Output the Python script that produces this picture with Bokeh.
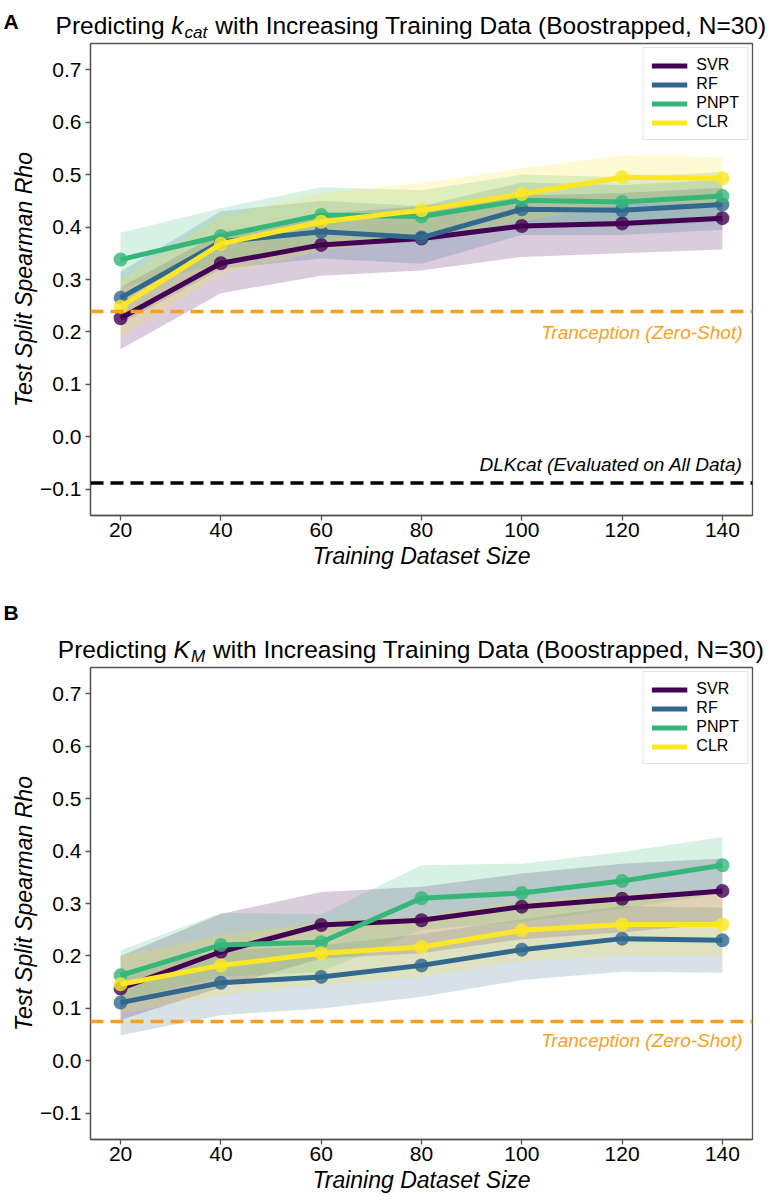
from bokeh.plotting import figure
from bokeh.layouts import column
from bokeh.models import Legend, LegendItem, Label, Span, FixedTicker, Range1d
from bokeh.embed import file_html
from bokeh.resources import INLINE

# ---------------- data ----------------
train_sizes = [20, 40, 60, 80, 100, 120, 140]
model_names = ["SVR", "RF", "PNPT", "CLR"]
model_colors = ["#440154", "#31688e", "#35b779", "#fde725"]

# kcat panel (A)
kcat_svr = [0.226, 0.331, 0.366, 0.378, 0.402, 0.407, 0.417]
kcat_svr_lo = [0.167, 0.274, 0.307, 0.317, 0.343, 0.350, 0.357]
kcat_svr_hi = [0.285, 0.390, 0.425, 0.440, 0.460, 0.465, 0.475]
kcat_rf = [0.265, 0.372, 0.391, 0.380, 0.434, 0.432, 0.443]
kcat_rf_lo = [0.215, 0.320, 0.340, 0.330, 0.385, 0.385, 0.395]
kcat_rf_hi = [0.315, 0.430, 0.450, 0.440, 0.485, 0.480, 0.490]
kcat_pnpt = [0.338, 0.383, 0.423, 0.420, 0.451, 0.448, 0.459]
kcat_pnpt_lo = [0.285, 0.330, 0.370, 0.370, 0.400, 0.400, 0.410]
kcat_pnpt_hi = [0.389, 0.436, 0.476, 0.470, 0.500, 0.495, 0.505]
kcat_clr = [0.248, 0.368, 0.410, 0.432, 0.463, 0.495, 0.493]
kcat_clr_lo = [0.190, 0.310, 0.355, 0.380, 0.410, 0.445, 0.445]
kcat_clr_hi = [0.300, 0.420, 0.465, 0.484, 0.512, 0.537, 0.533]
kcat_tranception = 0.239
kcat_dlkcat = -0.088

# KM panel (B)
km_svr = [0.138, 0.208, 0.259, 0.268, 0.294, 0.309, 0.324]
km_svr_lo = [0.078, 0.140, 0.195, 0.205, 0.232, 0.245, 0.262]
km_svr_hi = [0.200, 0.280, 0.322, 0.332, 0.357, 0.376, 0.386]
km_rf = [0.111, 0.149, 0.160, 0.182, 0.212, 0.233, 0.230]
km_rf_lo = [0.049, 0.087, 0.100, 0.122, 0.154, 0.170, 0.168]
km_rf_hi = [0.170, 0.210, 0.220, 0.242, 0.270, 0.295, 0.292]
km_pnpt = [0.163, 0.221, 0.226, 0.310, 0.320, 0.343, 0.373]
km_pnpt_lo = [0.115, 0.160, 0.170, 0.250, 0.265, 0.290, 0.320]
km_pnpt_hi = [0.211, 0.282, 0.280, 0.373, 0.376, 0.398, 0.427]
km_clr = [0.146, 0.182, 0.205, 0.217, 0.249, 0.260, 0.260]
km_clr_lo = [0.090, 0.125, 0.145, 0.160, 0.190, 0.200, 0.200]
km_clr_hi = [0.200, 0.240, 0.265, 0.275, 0.305, 0.320, 0.319]
km_tranception = 0.075

x_ticks = [20, 40, 60, 80, 100, 120, 140]
y_ticks = [-0.1, 0.0, 0.1, 0.2, 0.3, 0.4, 0.5, 0.6, 0.7]
y_tick_labels = ["\u22120.1", "0.0", "0.1", "0.2", "0.3", "0.4", "0.5", "0.6", "0.7"]

FONT = "Liberation Sans"
ORANGE = "#f7a11f"
FIG_W = 768
LEFT = 90
RIGHT = 16
FRAME_W = FIG_W - LEFT - RIGHT
FRAME_H = 472

# Arial / Liberation Sans advance widths (per 1000 em)
AFM = {" ": 278, "(": 333, ")": 333, ",": 278, "=": 584, "0": 556, "3": 556,
       "A": 667, "B": 667, "D": 722, "I": 278, "K": 667, "M": 833, "N": 722,
       "P": 667, "T": 611, "a": 556, "c": 500, "d": 556, "e": 556, "g": 556,
       "h": 556, "i": 222, "k": 500, "n": 556, "o": 556, "p": 556, "r": 333,
       "s": 500, "t": 278, "w": 722}


def tw(s, size):
    return sum(AFM.get(c, 556) for c in s) / 1000.0 * size


def make_header(height, letter, letter_y, title_y, sym, sub):
    h = figure(width=FIG_W, height=height, output_backend="svg", toolbar_location=None,
               x_range=Range1d(0, FIG_W), y_range=Range1d(0, height),
               x_axis_type=None, y_axis_type=None, min_border=0, frame_align=False)
    h.grid.visible = False
    h.outline_line_color = None
    h.add_layout(Label(x=3, y=letter_y, x_units="screen", y_units="screen", text=letter,
                       text_font=FONT, text_font_style="bold", text_font_size="21px",
                       text_color="black", text_align="left", text_baseline="alphabetic"))
    S = 24.5
    p1 = "Predicting"
    p4 = "with Increasing Training Data (Boostrapped, N=30)"
    sp = tw(" ", S)
    total = tw(p1, S) + sp + tw(sym, S) + 1 + tw(sub, S * 0.7) + 1 + sp + tw(p4, S)
    x0 = 411 - total / 2
    yb = title_y
    h.add_layout(Label(x=x0, y=yb, x_units="screen", y_units="screen", text=p1,
                       text_font=FONT, text_font_size=f"{S}px", text_color="black",
                       text_baseline="alphabetic"))
    x1 = x0 + tw(p1, S) + sp
    h.add_layout(Label(x=x1, y=yb, x_units="screen", y_units="screen", text=sym,
                       text_font=FONT, text_font_style="italic", text_font_size=f"{S}px",
                       text_color="black", text_baseline="alphabetic"))
    x2 = x1 + tw(sym, S) + 1
    h.add_layout(Label(x=x2, y=yb - 0.28 * S, x_units="screen", y_units="screen", text=sub,
                       text_font=FONT, text_font_style="italic",
                       text_font_size=f"{S * 0.7:.1f}px",
                       text_color="black", text_baseline="alphabetic"))
    x3 = x2 + tw(sub, S * 0.7) + 1 + sp
    h.add_layout(Label(x=x3, y=yb, x_units="screen", y_units="screen", text=p4,
                       text_font=FONT, text_font_size=f"{S}px", text_color="black",
                       text_baseline="alphabetic"))
    return h


def make_panel(bottom, series, hlines, below_offset):
    p = figure(width=FIG_W, height=2 + FRAME_H + bottom, output_backend="svg",
               toolbar_location=None,
               x_range=Range1d(14, 146), y_range=Range1d(-0.15, 0.75),
               min_border_left=LEFT, min_border_right=RIGHT,
               min_border_top=2, min_border_bottom=bottom)
    p.xgrid.visible = False
    p.ygrid.visible = False
    p.outline_line_color = "#555555"
    p.outline_line_width = 1.3

    for ax in (p.xaxis[0], p.yaxis[0]):
        ax.axis_line_color = "#555555"
        ax.axis_line_width = 1.3
        ax.major_tick_line_color = "#555555"
        ax.major_tick_line_width = 1.3
        ax.major_tick_out = 5
        ax.major_tick_in = 0
        ax.minor_tick_line_color = None
        ax.major_label_text_font = FONT
        ax.major_label_text_font_size = "21px"
        ax.major_label_text_color = "black"
        ax.axis_label_text_font = FONT
        ax.axis_label_text_font_style = "italic"
        ax.axis_label_text_font_size = "23px"
        ax.axis_label_text_color = "black"
    p.xaxis.ticker = FixedTicker(ticks=x_ticks)
    p.yaxis.ticker = FixedTicker(ticks=y_ticks)
    p.yaxis.major_label_overrides = {t: l for t, l in zip(y_ticks, y_tick_labels)}
    p.xaxis.axis_label = "Training Dataset Size"
    p.yaxis.axis_label = "Test Split Spearman Rho"
    p.xaxis.major_label_standoff = 2
    p.xaxis.axis_label_standoff = 3
    p.yaxis.major_label_standoff = 4
    p.yaxis.axis_label_standoff = 0

    for (name, color, mean, lo, hi) in series:
        p.varea(x=train_sizes, y1=lo, y2=hi, fill_color=color, fill_alpha=0.2)

    for (val, color, txt, txt_below) in hlines:
        p.add_layout(Span(location=val, dimension="width", line_color=color,
                          line_width=3.5, line_dash="13 7"))

    items = []
    for (name, color, mean, lo, hi) in series:
        r = p.line(train_sizes, mean, line_color=color, line_width=5)
        p.scatter(train_sizes, mean, size=14, fill_color=color, line_color=None, alpha=0.8)
        items.append(LegendItem(label=name, renderers=[r]))

    legend = Legend(items=items, location="top_right", glyph_width=36, glyph_height=17,
                    label_text_font=FONT, label_text_font_size="16px",
                    label_text_color="black", spacing=1,
                    padding=8, margin=4, label_standoff=9,
                    border_line_color="#cccccc", border_line_width=1,
                    background_fill_alpha=0.85)
    p.add_layout(legend)

    for (val, color, txt, txt_below) in hlines:
        ypx = (val + 0.15) / 0.9 * FRAME_H
        p.add_layout(Label(x=FRAME_W - 10, y=ypx + (-below_offset if txt_below else 18),
                           x_units="screen", y_units="screen", text=txt, text_font=FONT,
                           text_font_style="italic", text_font_size="19px",
                           text_color=color, text_align="right", text_baseline="middle"))
    return p


series_a = [
    ("SVR", model_colors[0], kcat_svr, kcat_svr_lo, kcat_svr_hi),
    ("RF", model_colors[1], kcat_rf, kcat_rf_lo, kcat_rf_hi),
    ("PNPT", model_colors[2], kcat_pnpt, kcat_pnpt_lo, kcat_pnpt_hi),
    ("CLR", model_colors[3], kcat_clr, kcat_clr_lo, kcat_clr_hi),
]
series_b = [
    ("SVR", model_colors[0], km_svr, km_svr_lo, km_svr_hi),
    ("RF", model_colors[1], km_rf, km_rf_lo, km_rf_hi),
    ("PNPT", model_colors[2], km_pnpt, km_pnpt_lo, km_pnpt_hi),
    ("CLR", model_colors[3], km_clr, km_clr_lo, km_clr_hi),
]

ha = make_header(41, "A", 20, 16, "k", "cat")
pa = make_panel(75, series_a,
                [(kcat_tranception, ORANGE, "Tranception (Zero-Shot)", True),
                 (kcat_dlkcat, "black", "DLKcat (Evaluated on All Data)", False)], 21)
hb = make_header(75, "B", 53, 16, "K", "M")
pb = make_panel(61, series_b,
                [(km_tranception, ORANGE, "Tranception (Zero-Shot)", True)], 19)

layout = column(ha, pa, hb, pb, spacing=0)
open("out.html", "w").write(file_html(layout, INLINE))
